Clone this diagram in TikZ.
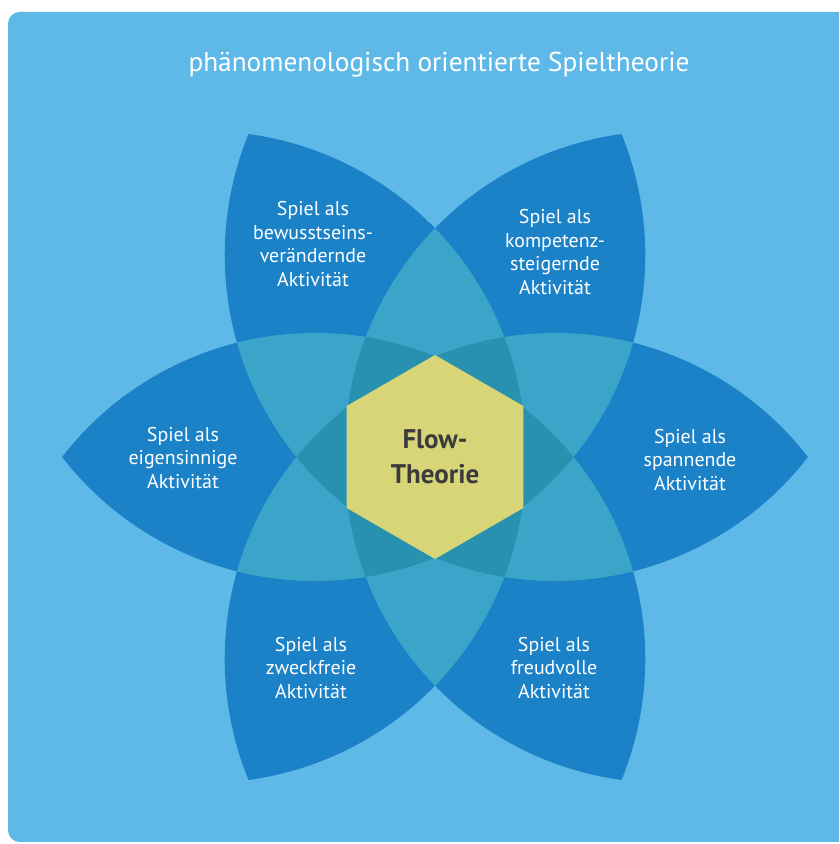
\documentclass[tikz,border=0pt]{standalone}
\usepackage{fontspec}
\setmainfont{PT Sans}
\usepackage{tikz}

\definecolor{paper}{HTML}{5FB9E8}
\definecolor{petalblue}{HTML}{1C82C8}
\definecolor{lapblue}{HTML}{3AA5C8}
\definecolor{coreblue}{HTML}{2891AF}
\definecolor{flowyellow}{HTML}{D7D578}
\definecolor{flowtext}{HTML}{3B3B3B}

% one leaf of the flower, pointing along the x axis
\newcommand{\petalpath}{(-133,0) arc[start angle=142.24,end angle=37.76,radius=320]
  arc[start angle=-37.76,end angle=-142.24,radius=320] -- cycle}

\begin{document}
\begin{tikzpicture}[x=0.03cm,y=0.03cm,
  leaf/.style={text=white,align=center,font=\fontsize{17}{20}\selectfont}]
\useasboundingbox (0,0) rectangle (839,844);
\clip (0,0) rectangle (839,844);
\fill[white] (0,0) rectangle (839,844);
\fill[paper,rounded corners=10pt] (8,2) rectangle (880,832);

\node[text=white,font=\fontsize{23.3}{28}\selectfont] (title) at (439,779) {phänomenologisch orientierte Spieltheorie};

\begin{scope}[shift={(435,387)}]
\foreach \a in {0,60,...,300}
  \fill[petalblue,rotate=\a] \petalpath;

% where two leaves overlap
\foreach \a/\b in {0/60,0/120,0/180,0/240,0/300,60/120,60/180,60/240,60/300,
  120/180,120/240,120/300,180/240,180/300,240/300}
{
  \begin{scope}
    \clip[rotate=\a] \petalpath;
    \fill[lapblue,rotate=\b] \petalpath;
  \end{scope}
}

% where three leaves overlap
\foreach \a/\b/\c in {300/0/60,0/60/120,60/120/180,120/180/240,180/240/300,240/300/0}
{
  \begin{scope}
    \clip[rotate=\a] \petalpath;
    \clip[rotate=\b] \petalpath;
    \fill[coreblue,rotate=\c] \petalpath;
  \end{scope}
}

\fill[flowyellow] (90:102) -- (150:102) -- (210:102) -- (270:102) -- (330:102) -- (30:102) -- cycle;
\end{scope}

\node[text=flowtext,align=center,font=\bfseries\fontsize{23}{30}\selectfont] (flow) at (435,387) {Flow-\\Theorie};

\node[leaf] (bewusst) at (313,600) {Spiel als\\bewusstseins-\\verändernde\\Aktivität};

\node[leaf] (kompetenz) at (555,592) {Spiel als\\kompetenz-\\steigernde\\Aktivität};

\node[leaf] (eigensinn) at (183,386) {Spiel als\\eigensinnige\\Aktivität};

\node[leaf] (spannend) at (690,384) {Spiel als\\spannende\\Aktivität};

\node[leaf] (zweckfrei) at (311,176) {Spiel als\\zweckfreie\\Aktivität};

\node[leaf] (freudvoll) at (554,176) {Spiel als\\freudvolle\\Aktivität};

\end{tikzpicture}
\end{document}
